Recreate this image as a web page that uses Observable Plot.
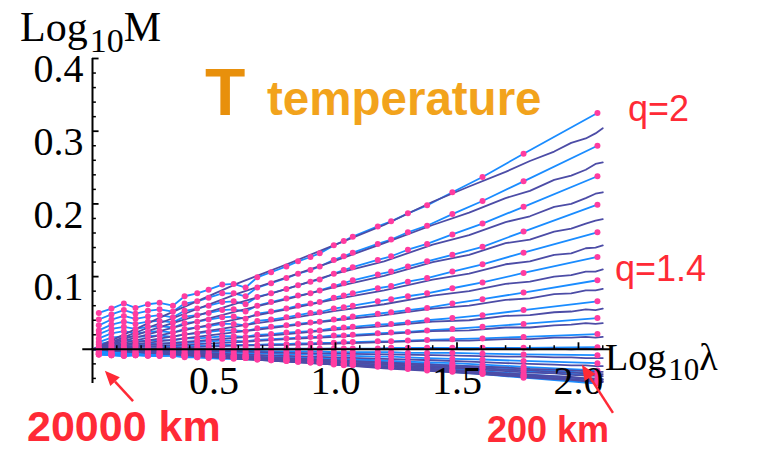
<!DOCTYPE html>
<html>
<head>
<meta charset="utf-8">
<script src="https://cdn.jsdelivr.net/npm/d3@7"></script>
<script src="https://cdn.jsdelivr.net/npm/@observablehq/plot@0.6"></script>
<style>
  body { margin: 0; background: #fff; }
  #chart { width: 766px; height: 450px; }
</style>
</head>
<body>
<div id="chart"></div>
<script>
// Trace moments of the temperature field: Log10 M against Log10 λ, one curve per moment order q.

// Scale ratios (Log10 λ) of the coarse-grained estimates (pink dots)
const lambdaCoarse = [0.026, 0.078, 0.129, 0.177, 0.228, 0.276, 0.331, 0.379, 0.431, 0.478,
  0.534, 0.581, 0.630, 0.678, 0.735, 0.798, 0.846, 0.897, 0.935, 0.993,
  1.034, 1.071, 1.174, 1.229, 1.298, 1.377, 1.481, 1.605, 1.774, 2.078];

// Coarse estimates, q = 2.0 down to 0.1
const mCoarse20 = [0.050,0.056,0.063,0.057,0.062,0.064,0.060,0.073,0.077,0.082,0.089,0.090,0.085,0.099,0.106,0.114,0.121,0.127,0.132,0.143,0.149,0.155,0.169,0.176,0.187,0.198,0.216,0.237,0.269,0.325];
const mCoarse19 = [0.041,0.048,0.054,0.049,0.053,0.055,0.052,0.063,0.066,0.071,0.077,0.077,0.073,0.085,0.091,0.098,0.104,0.109,0.114,0.123,0.128,0.133,0.145,0.151,0.161,0.170,0.186,0.204,0.231,0.280];
const mCoarse18 = [0.033,0.041,0.046,0.042,0.045,0.047,0.044,0.053,0.056,0.060,0.065,0.066,0.062,0.072,0.077,0.083,0.088,0.093,0.096,0.104,0.109,0.113,0.123,0.128,0.137,0.145,0.158,0.173,0.196,0.238];
const mCoarse17 = [0.026,0.034,0.038,0.035,0.038,0.039,0.037,0.045,0.047,0.050,0.054,0.055,0.052,0.060,0.065,0.070,0.074,0.077,0.081,0.087,0.091,0.095,0.103,0.107,0.114,0.121,0.130,0.141,0.162,0.199];
const mCoarse16 = [0.021,0.028,0.031,0.028,0.031,0.032,0.030,0.036,0.038,0.041,0.044,0.045,0.042,0.049,0.052,0.056,0.060,0.063,0.065,0.071,0.074,0.077,0.084,0.087,0.093,0.098,0.107,0.117,0.133,0.161];
const mCoarse15 = [0.015,0.022,0.025,0.022,0.024,0.025,0.023,0.028,0.030,0.032,0.035,0.035,0.033,0.039,0.041,0.044,0.047,0.050,0.051,0.056,0.058,0.060,0.066,0.069,0.073,0.077,0.084,0.092,0.105,0.127];
const mCoarse14 = [0.010,0.016,0.018,0.017,0.018,0.019,0.017,0.021,0.022,0.024,0.026,0.026,0.025,0.029,0.031,0.033,0.035,0.037,0.038,0.041,0.043,0.045,0.049,0.051,0.054,0.057,0.063,0.069,0.078,0.095];
const mCoarse13 = [0.007,0.011,0.013,0.011,0.012,0.013,0.012,0.015,0.015,0.016,0.018,0.018,0.017,0.020,0.021,0.023,0.024,0.025,0.026,0.029,0.030,0.031,0.034,0.035,0.037,0.040,0.043,0.047,0.054,0.066];
const mCoarse12 = [0.003,0.007,0.008,0.007,0.008,0.008,0.008,0.009,0.010,0.011,0.012,0.012,0.011,0.013,0.014,0.015,0.016,0.017,0.017,0.019,0.019,0.020,0.022,0.023,0.024,0.026,0.028,0.031,0.035,0.043];
const mCoarse11 = [0.001,0.004,0.004,0.004,0.004,0.004,0.004,0.005,0.005,0.005,0.006,0.006,0.006,0.006,0.007,0.007,0.008,0.008,0.009,0.009,0.010,0.010,0.011,0.011,0.012,0.013,0.014,0.015,0.017,0.021];
const mCoarse10 = [0.000,0.001,0.001,0.000,0.001,0.001,0.000,0.001,0.001,0.001,0.001,0.001,0.001,0.001,0.001,0.001,0.001,0.001,0.001,0.001,0.001,0.001,0.001,0.002,0.002,0.002,0.002,0.002,0.002,0.003];
const mCoarse09 = [-0.001,-0.001,-0.002,-0.001,-0.002,-0.002,-0.001,-0.002,-0.002,-0.002,-0.002,-0.002,-0.002,-0.002,-0.003,-0.003,-0.003,-0.003,-0.003,-0.004,-0.004,-0.004,-0.004,-0.004,-0.005,-0.005,-0.005,-0.006,-0.007,-0.008];
const mCoarse08 = [-0.003,-0.003,-0.004,-0.003,-0.004,-0.004,-0.004,-0.004,-0.005,-0.005,-0.005,-0.005,-0.005,-0.006,-0.006,-0.007,-0.007,-0.007,-0.008,-0.008,-0.009,-0.009,-0.010,-0.010,-0.011,-0.012,-0.013,-0.014,-0.016,-0.019];
const mCoarse07 = [-0.004,-0.005,-0.006,-0.005,-0.006,-0.006,-0.005,-0.007,-0.007,-0.007,-0.008,-0.008,-0.008,-0.009,-0.009,-0.010,-0.011,-0.011,-0.012,-0.013,-0.013,-0.014,-0.015,-0.016,-0.017,-0.018,-0.019,-0.021,-0.024,-0.029];
const mCoarse06 = [-0.006,-0.006,-0.007,-0.006,-0.007,-0.007,-0.007,-0.008,-0.009,-0.009,-0.010,-0.010,-0.009,-0.011,-0.012,-0.013,-0.013,-0.014,-0.015,-0.016,-0.016,-0.017,-0.019,-0.020,-0.021,-0.022,-0.024,-0.026,-0.030,-0.036];
const mCoarse05 = [-0.006,-0.007,-0.008,-0.007,-0.008,-0.008,-0.008,-0.009,-0.010,-0.010,-0.011,-0.011,-0.011,-0.013,-0.013,-0.014,-0.015,-0.016,-0.017,-0.018,-0.019,-0.020,-0.021,-0.022,-0.024,-0.025,-0.027,-0.030,-0.034,-0.041];
const mCoarse04 = [-0.007,-0.008,-0.009,-0.008,-0.009,-0.009,-0.008,-0.010,-0.011,-0.011,-0.012,-0.012,-0.012,-0.014,-0.015,-0.016,-0.017,-0.018,-0.018,-0.020,-0.021,-0.021,-0.023,-0.024,-0.026,-0.027,-0.030,-0.033,-0.037,-0.045];
const mCoarse03 = [-0.007,-0.008,-0.009,-0.008,-0.009,-0.009,-0.009,-0.011,-0.011,-0.012,-0.013,-0.013,-0.012,-0.014,-0.015,-0.016,-0.017,-0.018,-0.019,-0.021,-0.022,-0.022,-0.024,-0.025,-0.027,-0.029,-0.031,-0.034,-0.039,-0.047];
const mCoarse02 = [-0.007,-0.008,-0.009,-0.008,-0.008,-0.009,-0.008,-0.010,-0.010,-0.011,-0.012,-0.012,-0.012,-0.013,-0.014,-0.015,-0.016,-0.017,-0.018,-0.019,-0.020,-0.021,-0.023,-0.024,-0.025,-0.027,-0.029,-0.032,-0.036,-0.044];
const mCoarse01 = [-0.005,-0.006,-0.006,-0.006,-0.006,-0.007,-0.006,-0.007,-0.008,-0.008,-0.009,-0.009,-0.009,-0.010,-0.011,-0.012,-0.012,-0.013,-0.013,-0.015,-0.015,-0.016,-0.017,-0.018,-0.019,-0.020,-0.022,-0.024,-0.027,-0.033];

// Full-resolution curves (dark), sampled along Log10 λ
const lambdaFine = [0, 0.3, 0.6, 0.8, 1.0, 1.2, 1.4, 1.55, 1.7, 1.8, 1.9, 1.97, 2.03, 2.07, 2.1];
const mFine20 = [0, 0.047, 0.091, 0.117, 0.144, 0.171, 0.203, 0.224, 0.244, 0.259, 0.272, 0.284, 0.290, 0.297, 0.304];
const mFine19 = [0, 0.039, 0.077, 0.099, 0.122, 0.146, 0.171, 0.188, 0.208, 0.218, 0.233, 0.239, 0.247, 0.255, 0.257];
const mFine18 = [0, 0.033, 0.064, 0.083, 0.104, 0.121, 0.144, 0.157, 0.175, 0.183, 0.196, 0.200, 0.208, 0.214, 0.216];
const mFine17 = [0, 0.027, 0.053, 0.069, 0.086, 0.101, 0.120, 0.130, 0.146, 0.151, 0.162, 0.166, 0.173, 0.177, 0.179];
const mFine16 = [0, 0.021, 0.042, 0.055, 0.069, 0.081, 0.096, 0.104, 0.117, 0.121, 0.130, 0.132, 0.139, 0.140, 0.143];
const mFine15 = [0, 0.016, 0.032, 0.042, 0.053, 0.062, 0.074, 0.080, 0.090, 0.093, 0.100, 0.102, 0.107, 0.107, 0.110];
const mFine14 = [0, 0.012, 0.024, 0.032, 0.040, 0.047, 0.056, 0.060, 0.068, 0.070, 0.076, 0.077, 0.081, 0.081, 0.083];
const mFine13 = [0, 0.008, 0.016, 0.021, 0.027, 0.032, 0.038, 0.040, 0.046, 0.047, 0.051, 0.052, 0.055, 0.054, 0.056];
const mFine12 = [0, 0.005, 0.010, 0.014, 0.017, 0.021, 0.025, 0.026, 0.030, 0.030, 0.033, 0.034, 0.036, 0.035, 0.036];
const mFine11 = [0, 0.002, 0.005, 0.006, 0.008, 0.010, 0.012, 0.012, 0.014, 0.014, 0.016, 0.016, 0.017, 0.016, 0.017];
const mFine10 = [0, 0.000, 0.000, 0.000, 0.001, 0.000, 0.001, 0.000, 0.001, 0.000, 0.001, 0.000, 0.001, 0.000, 0.001];
const mFine09 = [0, -0.002, -0.003, -0.005, -0.006, -0.007, -0.008, -0.009, -0.010, -0.010, -0.011, -0.011, -0.012, -0.012, -0.012];
const mFine08 = [0, -0.003, -0.007, -0.009, -0.011, -0.013, -0.015, -0.017, -0.019, -0.020, -0.021, -0.022, -0.022, -0.023, -0.023];
const mFine07 = [0, -0.004, -0.009, -0.012, -0.015, -0.018, -0.021, -0.023, -0.025, -0.027, -0.028, -0.029, -0.030, -0.031, -0.031];
const mFine06 = [0, -0.005, -0.011, -0.014, -0.018, -0.021, -0.025, -0.027, -0.030, -0.032, -0.033, -0.035, -0.036, -0.036, -0.037];
const mFine05 = [0, -0.006, -0.012, -0.016, -0.020, -0.023, -0.027, -0.030, -0.033, -0.035, -0.037, -0.038, -0.040, -0.040, -0.041];
const mFine04 = [0, -0.006, -0.013, -0.017, -0.021, -0.025, -0.029, -0.032, -0.036, -0.038, -0.040, -0.041, -0.043, -0.043, -0.044];
const mFine03 = [0, -0.006, -0.013, -0.017, -0.021, -0.026, -0.030, -0.033, -0.036, -0.039, -0.041, -0.042, -0.044, -0.044, -0.045];
const mFine02 = [0, -0.006, -0.012, -0.016, -0.020, -0.024, -0.028, -0.031, -0.034, -0.036, -0.038, -0.039, -0.041, -0.041, -0.042];
const mFine01 = [0, -0.005, -0.010, -0.013, -0.016, -0.019, -0.023, -0.025, -0.028, -0.029, -0.031, -0.032, -0.033, -0.034, -0.034];

const qOrders = [2.0, 1.9, 1.8, 1.7, 1.6, 1.5, 1.4, 1.3, 1.2, 1.1, 1.0, 0.9, 0.8, 0.7, 0.6, 0.5, 0.4, 0.3, 0.2, 0.1];
const coarseSeries = [mCoarse20, mCoarse19, mCoarse18, mCoarse17, mCoarse16, mCoarse15, mCoarse14, mCoarse13, mCoarse12, mCoarse11,
  mCoarse10, mCoarse09, mCoarse08, mCoarse07, mCoarse06, mCoarse05, mCoarse04, mCoarse03, mCoarse02, mCoarse01];
const fineSeries = [mFine20, mFine19, mFine18, mFine17, mFine16, mFine15, mFine14, mFine13, mFine12, mFine11,
  mFine10, mFine09, mFine08, mFine07, mFine06, mFine05, mFine04, mFine03, mFine02, mFine01];

// Axis ticks and labels
const xMinorTicks = [0.1,0.2,0.3,0.4,0.6,0.7,0.8,0.9,1.1,1.2,1.3,1.4,1.6,1.7,1.8,1.9,2.1];
const xMajorTicks = [0.5, 1.0, 1.5, 2.0];
const yMinorTicks = [-0.04,-0.02,0.02,0.04,0.06,0.08,0.12,0.14,0.16,0.18,0.22,0.24,0.26,0.28,0.32,0.34,0.36,0.38];
const yMajorTicks = [0.1, 0.2, 0.3, 0.4];

// Callouts
const qLabels = ["q=2", "q=1.4"];
const scaleNotes = ["20000 km", "200 km"];
const arrowTails = [[0.169, -0.072], [2.144, -0.088]];
const arrowTips = [[0.053, -0.030], [2.016, -0.022]];

const toRows = (xs, series) => series.flatMap((vals, i) => vals.map((v, j) => ({q: qOrders[i], x: xs[j], m: v})));
const coarse = toRows(lambdaCoarse, coarseSeries);
const fine = toRows(lambdaFine, fineSeries);

const LIGHT = "#1a8cff", DARK = "#4c4ca6", PINK = "#ff3ca0", RED = "#ff2a36";
const serif = "'Liberation Serif', 'Times New Roman', serif";
const sans = "'Liberation Sans', Arial, sans-serif";

const svg = Plot.plot({
  width: 766,
  height: 450,
  marginLeft: 92,
  marginRight: 154,
  marginTop: 58,
  marginBottom: 67,
  x: {domain: [0, 2.14], axis: null},
  y: {domain: [-0.047, 0.4], axis: null},
  marks: [
    Plot.line(coarse, {x: "x", y: "m", z: "q", stroke: LIGHT, strokeWidth: 1.8}),
    Plot.line(fine, {x: "x", y: "m", z: "q", stroke: DARK, strokeWidth: 1.8}),
    Plot.dot(coarse, {x: "x", y: "m", r: 3, fill: PINK}),
    // axes through the origin
    Plot.ruleY([0], {x1: -0.04, x2: 2.14, stroke: "black", strokeWidth: 2}),
    Plot.ruleX([0], {y1: -0.047, y2: 0.4, stroke: "black", strokeWidth: 2}),
    Plot.ruleX(xMinorTicks, {x: d => d, y1: 0, y2: 0.005, stroke: "black", strokeWidth: 1.5}),
    Plot.ruleX(xMajorTicks, {x: d => d, y1: 0, y2: 0.009, stroke: "black", strokeWidth: 1.8}),
    Plot.ruleY(yMinorTicks, {y: d => d, x1: 0, x2: 0.016, stroke: "black", strokeWidth: 1.5}),
    Plot.ruleY(yMajorTicks, {y: d => d, x1: 0, x2: 0.027, stroke: "black", strokeWidth: 1.8}),
    Plot.text(xMajorTicks, {x: d => d, y: 0, text: d => d.toFixed(1), dy: 32, fontSize: 40, fontFamily: serif, fill: "black"}),
    Plot.text(yMajorTicks, {x: 0, y: d => d, text: d => d.toFixed(1), textAnchor: "end", dx: -9, dy: 11, fontSize: 40, fontFamily: serif, fill: "black"})
  ]
});
document.getElementById("chart").append(svg);

// Annotations drawn on top of the plot
const root = d3.select(svg);
const sx = v => svg.scale("x").apply(v);
const sy = v => svg.scale("y").apply(v);

function note(x, y, str, size, fill, family, weight) {
  return root.append("text").attr("x", x).attr("y", y)
    .attr("text-anchor", "start")
    .attr("font-family", family).attr("font-weight", weight || "normal")
    .attr("font-size", size).attr("fill", fill).text(str);
}

function subscriptLabel(x, y, main, sub, tail, size, subSize, drop) {
  const t = root.append("text").attr("x", x).attr("y", y).attr("text-anchor", "start")
    .attr("font-family", serif).attr("font-size", size).attr("fill", "black");
  t.append("tspan").text(main);
  t.append("tspan").attr("font-size", subSize).attr("dy", drop).attr("dx", 2).text(sub);
  t.append("tspan").attr("dy", -drop).text(tail);
}
subscriptLabel(20, 41, "Log", "10", "M", 42, 34, 11);
subscriptLabel(605, 370, "Log", "10", "λ", 38, 31, 10);

note(205, 115, "T", 66, "#e8900c", sans, "bold");
note(267, 115, "temperature", 47.5, "#f2a31c", sans, "bold");
note(628, 121, qLabels[0], 36, RED, sans);
note(615, 281, qLabels[1], 36, RED, sans);
note(27, 441, scaleNotes[0], 43, RED, sans, "bold");
note(487, 442, scaleNotes[1], 36, RED, sans, "bold");

arrowTails.forEach((tail, i) => {
  const x0 = sx(tail[0]), y0 = sy(tail[1]);
  const x1 = sx(arrowTips[i][0]), y1 = sy(arrowTips[i][1]);
  const ang = Math.atan2(y1 - y0, x1 - x0);
  const L = 15, W = 6.5;
  const bx = x1 - L * Math.cos(ang), by = y1 - L * Math.sin(ang);
  root.append("line").attr("x1", x0).attr("y1", y0).attr("x2", bx).attr("y2", by)
    .attr("stroke", RED).attr("stroke-width", 2.5);
  root.append("polygon")
    .attr("points", [
      [x1, y1],
      [bx + W * Math.sin(ang), by - W * Math.cos(ang)],
      [bx - W * Math.sin(ang), by + W * Math.cos(ang)]
    ].map(p => p.join(",")).join(" "))
    .attr("fill", RED);
});
</script>
</body>
</html>
